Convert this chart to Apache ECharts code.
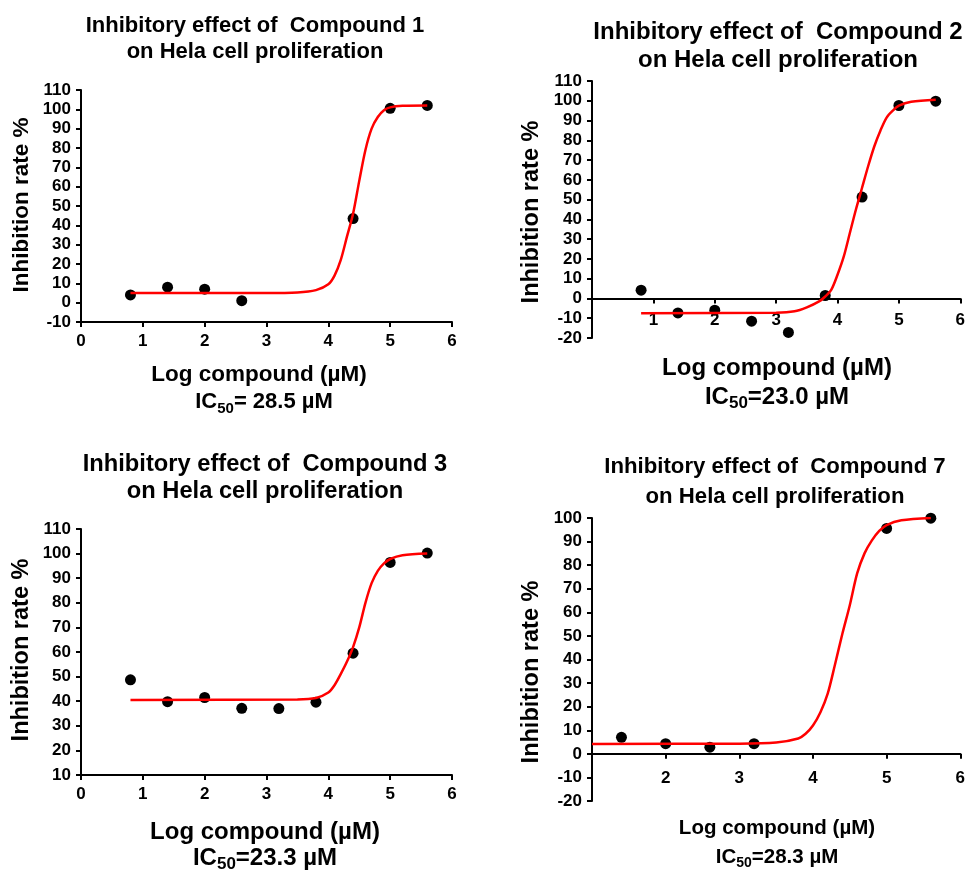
<!DOCTYPE html>
<html><head><meta charset="utf-8">
<script src="https://cdn.jsdelivr.net/npm/echarts@6/dist/echarts.min.js"></script>
<style>html,body{margin:0;padding:0;background:#fff}#c{width:968px;height:870px}</style>
</head><body><div id="c"></div>
<script>
const FONT = "'Liberation Sans', Arial, Helvetica, sans-serif";

// ---- Compound 1 ----
const dose1 = [0.8, 1.4, 2.0, 2.6, 4.4, 5.0, 5.6];
const inhib1 = [4, 8, 7, 1, 43.5, 100.5, 102];
const fitX1 = [0.8, 3.0, 3.5, 3.8, 4.0, 4.1, 4.2, 4.3, 4.4, 4.5, 4.6, 4.7, 4.8, 4.9, 5.0, 5.2, 5.6];
const fitY1 = [5, 5, 5.3, 6.5, 9.5, 14, 22, 34, 46, 63, 79, 90, 96, 99.5, 101, 101.8, 102];

// ---- Compound 2 ----
const dose2 = [0.8, 1.4, 2.0, 2.6, 3.2, 3.8, 4.4, 5.0, 5.6];
const inhib2 = [4.2, -7.3, -5.9, -11.5, -17.2, 1.5, 51.3, 97.6, 99.8];
const fitX2 = [0.8, 3.0, 3.3, 3.5, 3.7, 3.8, 3.9, 4.0, 4.1, 4.2, 4.3, 4.4, 4.5, 4.6, 4.7, 4.8, 4.9, 5.0, 5.2, 5.6];
const fitY2 = [-7.5, -7.2, -6.5, -4.5, -1.5, 1, 4.5, 12, 21, 33, 45, 56, 67, 77, 85, 91.5, 95, 97.5, 99.5, 100.5];

// ---- Compound 3 ----
const dose3 = [0.8, 1.4, 2.0, 2.6, 3.2, 3.8, 4.4, 5.0, 5.6];
const inhib3 = [48.7, 39.8, 41.5, 37.1, 37, 39.6, 59.5, 96.4, 100.2];
const fitX3 = [0.8, 3.5, 3.8, 4.0, 4.1, 4.2, 4.3, 4.4, 4.5, 4.6, 4.7, 4.8, 4.9, 5.0, 5.2, 5.6];
const fitY3 = [40.5, 40.7, 41.3, 43.5, 46.5, 51, 56, 62, 70, 80, 88, 93, 96, 97.8, 99.3, 100];

// ---- Compound 7 ----
const dose7 = [1.4, 2.0, 2.6, 3.2, 5.0, 5.6];
const inhib7 = [7, 4.3, 2.8, 4.3, 95.6, 99.9];
const fitX7 = [1.0, 3.0, 3.5, 3.8, 3.9, 4.0, 4.1, 4.2, 4.3, 4.4, 4.5, 4.6, 4.7, 4.8, 4.9, 5.0, 5.2, 5.6];
const fitY7 = [4.2, 4.3, 4.8, 6.5, 8.5, 12, 17.5, 25.5, 38, 51, 63, 76.5, 85, 90.5, 94.5, 97, 99, 100];

const titles = ['Inhibitory effect of  Compound 1\non Hela cell proliferation',
                'Inhibitory effect of  Compound 2\non Hela cell proliferation',
                'Inhibitory effect of  Compound 3\non Hela cell proliferation',
                'Inhibitory effect of  Compound 7\non Hela cell proliferation'];
const ic50Values = ['= 28.5 \u00B5M', '=23.0 \u00B5M', '=23.3 \u00B5M', '=28.3 \u00B5M'];
const xTitle = 'Log compound (\u00B5M)';
const yTitle = 'Inhibition rate %';

const pairs = (xs, ys) => xs.map((x, i) => [x, ys[i]]);

const grids = [
  {left: 81, top: 90, width: 371, height: 232},
  {left: 592, top: 81, width: 372, height: 257},
  {left: 81, top: 529, width: 371, height: 246},
  {left: 592, top: 518, width: 371, height: 283}
];

function xAxis(i, min, onZero, showMin, margin) {
  return {
    type: 'value', gridIndex: i, min: min, max: 6, interval: 1,
    axisLine: {show: true, onZero: onZero, lineStyle: {color: '#000', width: 2}},
    axisTick: {show: true, length: 5, lineStyle: {color: '#000', width: 2}},
    axisLabel: {fontFamily: FONT, fontWeight: 'bold', fontSize: 17, color: '#000', margin: margin, showMinLabel: showMin},
    splitLine: {show: false}
  };
}
function yAxis(i, min, max) {
  return {
    type: 'value', gridIndex: i, min: min, max: max, interval: 10,
    axisLine: {show: true, onZero: false, lineStyle: {color: '#000', width: 2}},
    axisTick: {show: true, length: 5, lineStyle: {color: '#000', width: 2}},
    axisLabel: {fontFamily: FONT, fontWeight: 'bold', fontSize: 17, color: '#000', margin: 10},
    splitLine: {show: false}
  };
}

function scatter(i, xs, ys) {
  return {type: 'scatter', xAxisIndex: i, yAxisIndex: i, data: pairs(xs, ys),
    symbol: 'circle', symbolSize: 11, itemStyle: {color: '#000', opacity: 1}, z: 3, silent: true};
}
function curve(i, xs, ys) {
  return {type: 'line', xAxisIndex: i, yAxisIndex: i, data: pairs(xs, ys),
    showSymbol: false, smooth: 0.3,
    lineStyle: {color: '#ff0000', width: 2.5}, z: 4, silent: true};
}

function text(cx, cy, str, size, lh, rot) {
  return {type: 'text', x: cx, y: cy, rotation: rot || 0, style: {text: str, fontFamily: FONT, fontWeight: 'bold',
    fontSize: size, lineHeight: lh, align: 'center', verticalAlign: 'middle', fill: '#000'}};
}
function icText(cx, cy, rest, size) {
  return {type: 'text', x: cx, y: cy, style: {
    text: '{m|IC}{s|50}{m|' + rest + '}', align: 'center', verticalAlign: 'middle', fill: '#000',
    rich: {
      m: {fontFamily: FONT, fontWeight: 'bold', fontSize: size, lineHeight: size + 6, verticalAlign: 'middle', fill: '#000'},
      s: {fontFamily: FONT, fontWeight: 'bold', fontSize: Math.round(size * 0.7), lineHeight: Math.round(size * 0.7), verticalAlign: 'bottom', fill: '#000'}
    }}};
}

const R = Math.PI / 2;
const option = {
  animation: false,
  backgroundColor: '#fff',
  grid: grids,
  xAxis: [
    xAxis(0, 0, false, true, 11),
    xAxis(1, 0, true, false, -26),
    xAxis(2, 0, false, true, 11),
    xAxis(3, 1, true, false, -31)
  ],
  yAxis: [
    yAxis(0, -10, 110),
    yAxis(1, -20, 110),
    yAxis(2, 10, 110),
    yAxis(3, -20, 100)
  ],
  series: [
    scatter(0, dose1, inhib1), curve(0, fitX1, fitY1),
    scatter(1, dose2, inhib2), curve(1, fitX2, fitY2),
    scatter(2, dose3, inhib3), curve(2, fitX3, fitY3),
    scatter(3, dose7, inhib7), curve(3, fitX7, fitY7)
  ],
  graphic: [
    text(255, 39, titles[0], 22, 26),
    text(778, 46, titles[1], 24, 28),
    text(265, 478, titles[2], 23.7, 27),
    text(775, 482, titles[3], 22.2, 30),
    text(259, 375, xTitle, 22.5, 26),
    text(777, 368, xTitle, 24, 28),
    text(265, 832, xTitle, 24, 28),
    text(777, 828, xTitle, 20.5, 24),
    text(22, 205, yTitle, 22.5, 26, R),
    text(532, 212, yTitle, 23.5, 28, R),
    text(22, 650, yTitle, 23.5, 28, R),
    text(532, 672, yTitle, 23.5, 28, R),
    icText(264, 402, ic50Values[0], 22),
    icText(777, 397, ic50Values[1], 24),
    icText(265, 858, ic50Values[2], 24),
    icText(777, 857, ic50Values[3], 20.5)
  ]
};

const chart = echarts.init(document.getElementById('c'), null, {renderer: 'canvas'});
chart.setOption(option);
</script>
</body></html>
